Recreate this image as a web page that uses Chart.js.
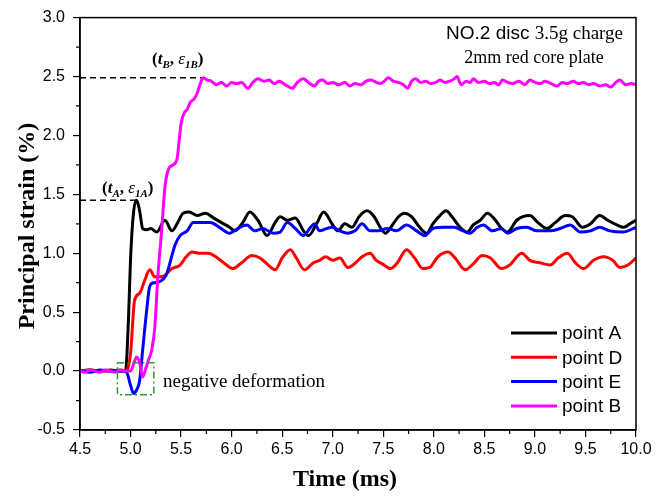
<!DOCTYPE html>
<html>
<head>
<meta charset="utf-8">
<script src="https://cdn.jsdelivr.net/npm/chart.js@4.4.1/dist/chart.umd.min.js"></script>
<style>
  html, body { margin: 0; padding: 0; background: #fff; }
  #wrap { width: 667px; height: 500px; }
</style>
</head>
<body>
<div id="wrap"><canvas id="chart"></canvas></div>
<script>
// strain curves (time in ms, strain in %)
const timeA = [4.5, 4.6, 4.7, 4.8, 4.9, 4.95, 4.98, 5.0, 5.03, 5.06, 5.09, 5.12, 5.16, 5.2, 5.26, 5.34, 5.41, 5.46, 5.52, 5.58, 5.66, 5.74, 5.82, 5.9, 5.98, 6.03, 6.11, 6.18, 6.26, 6.35, 6.43, 6.48, 6.55, 6.63, 6.71, 6.76, 6.84, 6.91, 7.0, 7.05, 7.12, 7.19, 7.26, 7.34, 7.41, 7.47, 7.52, 7.59, 7.65, 7.71, 7.78, 7.86, 7.93, 7.99, 8.06, 8.12, 8.18, 8.26, 8.33, 8.39, 8.46, 8.53, 8.61, 8.67, 8.73, 8.82, 8.95, 9.03, 9.12, 9.2, 9.3, 9.37, 9.47, 9.55, 9.64, 9.72, 9.81, 9.88, 9.94, 10.0];
const strainA = [0, 0.01, 0, 0.01, 0, 0, 0.45, 0.95, 1.35, 1.45, 1.36, 1.21, 1.2, 1.21, 1.18, 1.28, 1.19, 1.25, 1.34, 1.35, 1.32, 1.34, 1.3, 1.26, 1.22, 1.19, 1.26, 1.35, 1.28, 1.15, 1.26, 1.31, 1.28, 1.3, 1.19, 1.15, 1.25, 1.35, 1.24, 1.19, 1.25, 1.22, 1.31, 1.36, 1.31, 1.22, 1.17, 1.24, 1.31, 1.34, 1.31, 1.22, 1.17, 1.25, 1.32, 1.36, 1.31, 1.22, 1.18, 1.24, 1.28, 1.34, 1.28, 1.21, 1.18, 1.28, 1.32, 1.26, 1.21, 1.26, 1.32, 1.31, 1.22, 1.25, 1.32, 1.28, 1.24, 1.22, 1.25, 1.28];

const timeD = [4.5, 4.6, 4.7, 4.8, 4.9, 4.96, 5.0, 5.04, 5.09, 5.14, 5.19, 5.24, 5.31, 5.41, 5.49, 5.55, 5.61, 5.69, 5.77, 5.86, 5.95, 6.01, 6.1, 6.2, 6.28, 6.35, 6.43, 6.5, 6.58, 6.64, 6.72, 6.81, 6.87, 6.93, 7.0, 7.07, 7.15, 7.2, 7.29, 7.37, 7.43, 7.49, 7.57, 7.64, 7.73, 7.81, 7.89, 7.96, 8.04, 8.14, 8.21, 8.31, 8.39, 8.48, 8.56, 8.67, 8.75, 8.87, 8.95, 9.05, 9.15, 9.23, 9.32, 9.4, 9.48, 9.58, 9.68, 9.77, 9.84, 9.92, 10.0];
const strainD = [0, 0.01, 0, 0, 0.01, 0, 0.15, 0.6, 0.66, 0.77, 0.86, 0.8, 0.8, 0.87, 0.9, 0.97, 1.01, 1.0, 1.0, 0.96, 0.9, 0.87, 0.92, 0.98, 0.96, 0.91, 0.86, 0.96, 1.03, 0.96, 0.86, 0.92, 0.94, 0.97, 0.94, 0.96, 0.88, 0.9, 0.97, 1.0, 0.94, 0.91, 0.87, 0.92, 1.03, 0.96, 0.87, 0.88, 0.97, 1.01, 0.96, 0.86, 0.91, 0.98, 0.96, 0.87, 0.9, 1.0, 0.94, 0.92, 0.9, 0.96, 1.0, 0.92, 0.87, 0.94, 0.97, 0.94, 0.88, 0.9, 0.96];

const timeE = [4.5, 4.6, 4.7, 4.8, 4.9, 4.96, 5.0, 5.03, 5.06, 5.09, 5.12, 5.16, 5.19, 5.23, 5.29, 5.36, 5.4, 5.44, 5.49, 5.56, 5.62, 5.7, 5.79, 5.88, 5.98, 6.06, 6.15, 6.23, 6.31, 6.41, 6.48, 6.55, 6.63, 6.71, 6.78, 6.82, 6.87, 6.94, 7.0, 7.07, 7.15, 7.22, 7.29, 7.37, 7.45, 7.54, 7.63, 7.73, 7.83, 7.91, 7.99, 8.1, 8.2, 8.29, 8.36, 8.43, 8.49, 8.58, 8.67, 8.73, 8.82, 8.92, 9.02, 9.15, 9.25, 9.35, 9.45, 9.55, 9.64, 9.74, 9.87, 10.0];
const strainE = [0, -0.01, 0.01, 0, 0, -0.01, -0.12, -0.19, -0.16, -0.08, 0.18, 0.52, 0.72, 0.75, 0.76, 0.83, 0.95, 1.07, 1.15, 1.19, 1.26, 1.26, 1.26, 1.22, 1.17, 1.21, 1.24, 1.19, 1.21, 1.17, 1.18, 1.26, 1.21, 1.15, 1.22, 1.25, 1.19, 1.21, 1.22, 1.19, 1.17, 1.19, 1.25, 1.19, 1.19, 1.21, 1.19, 1.24, 1.19, 1.15, 1.21, 1.22, 1.22, 1.19, 1.17, 1.22, 1.24, 1.19, 1.21, 1.17, 1.21, 1.22, 1.19, 1.19, 1.21, 1.24, 1.18, 1.19, 1.22, 1.19, 1.18, 1.22];

const timeB = [4.5, 4.55, 4.6, 4.65, 4.7, 4.75, 4.8, 4.85, 4.9, 4.95, 5.0, 5.03, 5.06, 5.09, 5.12, 5.15, 5.18, 5.21, 5.24, 5.27, 5.31, 5.34, 5.37, 5.42, 5.46, 5.48, 5.5, 5.53, 5.56, 5.59, 5.63, 5.66, 5.69, 5.72, 5.76, 5.8, 5.85, 5.9, 5.95, 6.0, 6.05, 6.1, 6.16, 6.21, 6.26, 6.32, 6.37, 6.42, 6.47, 6.53, 6.6, 6.65, 6.71, 6.76, 6.82, 6.86, 6.9, 6.95, 7.0, 7.06, 7.12, 7.17, 7.22, 7.28, 7.33, 7.38, 7.43, 7.47, 7.51, 7.55, 7.6, 7.65, 7.7, 7.74, 7.78, 7.82, 7.87, 7.92, 7.97, 8.02, 8.06, 8.11, 8.16, 8.2, 8.23, 8.27, 8.32, 8.36, 8.39, 8.44, 8.5, 8.55, 8.6, 8.64, 8.68, 8.73, 8.78, 8.84, 8.9, 8.95, 9.0, 9.05, 9.1, 9.16, 9.22, 9.27, 9.32, 9.38, 9.43, 9.48, 9.53, 9.58, 9.64, 9.7, 9.75, 9.8, 9.84, 9.9, 9.95, 10.0];
const strainB = [0, -0.01, 0.01, 0, -0.01, 0.01, 0, -0.01, 0.01, 0, 0, 0.06, 0.12, 0.07, -0.05, 0.02, 0.1, 0.18, 0.37, 0.8, 1.22, 1.56, 1.7, 1.75, 1.8, 1.95, 2.1, 2.19, 2.22, 2.28, 2.31, 2.36, 2.44, 2.49, 2.47, 2.46, 2.43, 2.45, 2.42, 2.45, 2.44, 2.45, 2.4, 2.45, 2.48, 2.46, 2.47, 2.44, 2.46, 2.43, 2.4, 2.45, 2.48, 2.45, 2.42, 2.46, 2.47, 2.44, 2.45, 2.43, 2.45, 2.42, 2.44, 2.43, 2.46, 2.47, 2.45, 2.44, 2.46, 2.49, 2.46, 2.45, 2.43, 2.4, 2.46, 2.48, 2.45, 2.46, 2.44, 2.45, 2.47, 2.45, 2.46, 2.48, 2.5, 2.43, 2.46, 2.45, 2.48, 2.45, 2.46, 2.44, 2.45, 2.43, 2.47, 2.45, 2.44, 2.46, 2.43, 2.47, 2.45, 2.44, 2.46, 2.44, 2.42, 2.45, 2.44, 2.46, 2.44, 2.45, 2.43, 2.44, 2.42, 2.43, 2.41, 2.45, 2.47, 2.43, 2.44, 2.43];

// annotation anchors
const peakA = { t: 5.06, e: 1.45 };
const peakB = { t: 5.72, e: 2.49 };
const negBox = { t0: 4.87, t1: 5.23, e0: -0.2, e1: 0.07 };

const xTicks = { min: 4.5, max: 10, step: 0.5 };
const yTicks = { min: -0.5, max: 3, step: 0.5 };

const SERIF = '"Liberation Serif", "Times New Roman", serif';
const SANS = '"Liberation Sans", Arial, sans-serif';

function pts(ts, vs) {
  return ts.map((t, i) => ({ x: t, y: vs[i] }));
}

function curve(label, color, ts, vs, order) {
  return {
    label, data: pts(ts, vs), borderColor: color, backgroundColor: color,
    borderWidth: 3, pointRadius: 0, cubicInterpolationMode: 'monotone', order,
  };
}

function guide(data, color, dash, order) {
  return {
    label: '', data, borderColor: color, borderWidth: 1.5, borderDash: dash,
    pointRadius: 0, tension: 0, order,
  };
}

const datasets = [
  curve('point A', '#000000', timeA, strainA, 4),
  curve('point D', '#ff0000', timeD, strainD, 3),
  curve('point E', '#0000ff', timeE, strainE, 2),
  curve('point B', '#ff00ff', timeB, strainB, 1),
  guide([{ x: xTicks.min, y: peakA.e }, { x: peakA.t, y: peakA.e }], '#000', [6, 4], 6),
  guide([{ x: xTicks.min, y: peakB.e }, { x: peakB.t, y: peakB.e }], '#000', [6, 4], 6),
  guide([
    { x: negBox.t0, y: negBox.e1 }, { x: negBox.t1, y: negBox.e1 },
    { x: negBox.t1, y: negBox.e0 }, { x: negBox.t0, y: negBox.e0 },
    { x: negBox.t0, y: negBox.e1 },
  ], '#2f9a2f', [7, 3, 2, 3], 0),
];

// draw mixed-font text pieces one after another
function drawRich(ctx, x, y, parts) {
  let cx = x;
  parts.forEach(p => {
    ctx.font = p.font;
    ctx.fillText(p.text, cx, y + (p.dy || 0));
    cx += ctx.measureText(p.text).width;
  });
}

function pointLabel(ctx, x, y, sub1, sub2) {
  const big = 'bold italic 17px ' + SERIF;
  const up = 'bold 17px ' + SERIF;
  const small = 'bold italic 11px ' + SERIF;
  drawRich(ctx, x, y, [
    { text: '(', font: up },
    { text: 't', font: big },
    { text: sub1, font: small, dy: 4 },
    { text: ', ', font: up },
    { text: 'ε', font: 'italic 17px ' + SERIF },
    { text: sub2, font: small, dy: 4 },
    { text: ')', font: up },
  ]);
}

const decor = {
  id: 'decor',
  afterDatasetsDraw(chart) {
    const { ctx, chartArea: a, scales: { x, y } } = chart;
    ctx.save();
    ctx.strokeStyle = '#000';
    ctx.lineWidth = 1.5;
    ctx.strokeRect(a.left, a.top, a.right - a.left, a.bottom - a.top);

    // minor ticks
    ctx.lineWidth = 1.2;
    ctx.beginPath();
    for (let v = xTicks.min + xTicks.step / 2; v < xTicks.max; v += xTicks.step) {
      const px = x.getPixelForValue(v);
      ctx.moveTo(px, a.bottom); ctx.lineTo(px, a.bottom + 4);
    }
    for (let v = yTicks.min + yTicks.step / 2; v < yTicks.max; v += yTicks.step) {
      const py = y.getPixelForValue(v);
      ctx.moveTo(a.left, py); ctx.lineTo(a.left - 4, py);
    }
    ctx.stroke();

    ctx.fillStyle = '#000';
    ctx.textBaseline = 'alphabetic';
    ctx.textAlign = 'left';
    pointLabel(ctx, 152, 64, 'B', '1B');
    pointLabel(ctx, 102, 193, 'A', '1A');

    // header text
    ctx.font = '19px ' + SANS;
    const w1 = ctx.measureText('NO.2 disc ').width;
    ctx.font = '19px ' + SERIF;
    const w2 = ctx.measureText('3.5g charge').width;
    const left1 = 623 - w1 - w2;
    ctx.font = '19px ' + SANS;
    ctx.fillText('NO.2 disc ', left1, 39);
    ctx.font = '19px ' + SERIF;
    ctx.fillText('3.5g charge', left1 + w1, 39);
    ctx.textAlign = 'center';
    ctx.font = '18px ' + SERIF;
    ctx.fillText('2mm red core plate', 534, 63);

    ctx.textAlign = 'left';
    ctx.font = '19px ' + SERIF;
    ctx.fillText('negative deformation', 163, 387);

    // legend
    const rows = chart.data.datasets.filter(d => d.label);
    rows.forEach((d, i) => {
      const ly = 333 + i * 24.3;
      ctx.strokeStyle = d.borderColor;
      ctx.lineWidth = 3;
      ctx.setLineDash([]);
      ctx.beginPath();
      ctx.moveTo(511, ly); ctx.lineTo(557, ly);
      ctx.stroke();
      ctx.font = '19px ' + SANS;
      ctx.textBaseline = 'middle';
      ctx.fillText(d.label, 562, ly + 1);
    });

    // axis titles
    ctx.textBaseline = 'middle';
    ctx.textAlign = 'center';
    ctx.font = 'bold 24px ' + SERIF;
    ctx.fillText('Time (ms)', 345, 480);
    ctx.translate(28, 226);
    ctx.rotate(-Math.PI / 2);
    ctx.fillText('Principal strain (%)', 0, 0);
    ctx.restore();
  }
};

new Chart(document.getElementById('chart'), {
  type: 'line',
  data: { datasets },
  options: {
    responsive: true,
    maintainAspectRatio: false,
    devicePixelRatio: 1,
    animation: false,
    layout: { padding: { top: 17, right: 31, left: 0, bottom: 0 } },
    plugins: { legend: { display: false }, tooltip: { enabled: false } },
    scales: {
      x: {
        type: 'linear', min: xTicks.min, max: xTicks.max,
        afterFit: s => { s.height = 70; },
        ticks: {
          stepSize: xTicks.step, autoSkip: false, maxRotation: 0, padding: 3,
          color: '#000', font: { family: SANS, size: 16 },
          callback: v => Number(v).toFixed(1),
        },
        grid: { drawOnChartArea: false, tickLength: 7, color: '#000', lineWidth: 1.2 },
        border: { color: '#000', width: 1.5 },
      },
      y: {
        type: 'linear', min: yTicks.min, max: yTicks.max,
        afterFit: s => { s.width = 80; },
        ticks: {
          stepSize: yTicks.step, autoSkip: false, padding: 8,
          color: '#000', font: { family: SANS, size: 16 },
          callback: v => Number(v).toFixed(1),
        },
        grid: { drawOnChartArea: false, tickLength: 7, color: '#000', lineWidth: 1.2 },
        border: { color: '#000', width: 1.5 },
      },
    },
  },
  plugins: [decor],
});
</script>
</body>
</html>
